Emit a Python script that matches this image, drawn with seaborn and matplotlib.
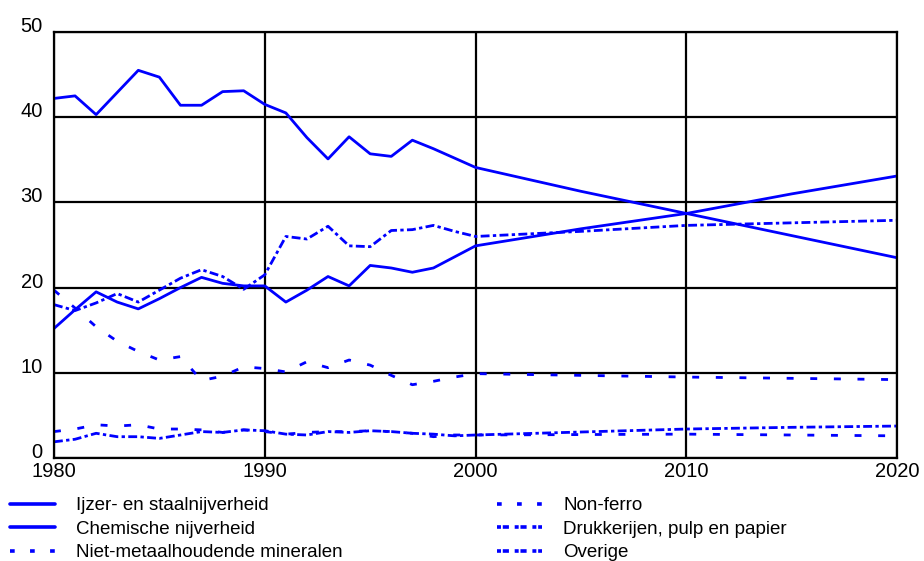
import pandas as pd
import matplotlib
matplotlib.use("Agg")
import matplotlib.pyplot as plt
import seaborn as sns

# years: yearly up to 2000, then every 5 years
years = list(range(1980, 2001)) + [2005, 2010, 2015, 2020]

ijzer = [42.2, 42.5, 40.3, 42.9, 45.5, 44.7, 41.4, 41.4, 43.0, 43.1,
         41.5, 40.5, 37.6, 35.1, 37.7, 35.7, 35.4, 37.3, 36.3, 35.2,
         34.1, 31.3, 28.7, 26.1, 23.5]
chemie = [15.2, 17.4, 19.5, 18.3, 17.5, 18.7, 20.0, 21.2, 20.5, 20.2,
          20.2, 18.3, 19.7, 21.3, 20.2, 22.6, 22.3, 21.8, 22.3, 23.6,
          24.9, 26.9, 28.7, 31.0, 33.1]
niet_metaal = [19.7, 17.6, 15.4, 13.7, 12.5, 11.5, 11.9, 9.1, 9.6, 10.7,
               10.5, 10.1, 11.3, 10.6, 11.5, 10.9, 9.7, 8.6, 9.0, 9.5,
               9.9, 9.7, 9.5, 9.35, 9.2]
non_ferro = [3.1, 3.4, 3.9, 3.75, 3.9, 3.4, 3.4, 3.3, 3.0, 3.3,
             3.1, 2.8, 3.0, 3.1, 3.1, 3.2, 3.1, 2.9, 2.5, 2.7,
             2.7, 2.75, 2.8, 2.7, 2.6]
drukkerijen = [1.9, 2.2, 2.9, 2.5, 2.5, 2.3, 2.7, 3.1, 3.0, 3.3,
               3.2, 2.8, 2.7, 3.1, 3.0, 3.2, 3.1, 2.9, 2.8, 2.6,
               2.7, 3.05, 3.4, 3.6, 3.75]
overige = [18.0, 17.3, 18.2, 19.3, 18.3, 19.7, 21.1, 22.1, 21.3, 19.8,
           21.5, 26.0, 25.7, 27.2, 24.9, 24.8, 26.7, 26.8, 27.3, 26.6,
           26.0, 26.6, 27.3, 27.6, 27.9]

labels = ["Ijzer- en staalnijverheid", "Chemische nijverheid",
          "Niet-metaalhoudende mineralen", "Non-ferro",
          "Drukkerijen, pulp en papier", "Overige"]
series = [ijzer, chemie, niet_metaal, non_ferro, drukkerijen, overige]

rows = []
for name, vals in zip(labels, series):
    for y, v in zip(years, vals):
        rows.append({"jaar": y, "waarde": v, "sector": name})
df = pd.DataFrame(rows)

sns.set_theme(style="white")
plt.rcParams["font.family"] = ["Liberation Sans", "DejaVu Sans"]
plt.rcParams["text.color"] = "black"

dashes = {
    labels[0]: "",
    labels[1]: "",
    labels[2]: (2.5, 6),
    labels[3]: (2.5, 6),
    labels[4]: (3.2, 1.2, 1.2, 1.2),
    labels[5]: (3.2, 1.2, 1.2, 1.2),
}
palette = {n: "#0000ff" for n in labels}
fs_tick = 14.5
fs_leg = 13.5

fig = plt.figure(figsize=(9.24, 5.61), dpi=100)
ax = fig.add_axes([0.0584, 0.1836, 0.9126, 0.7594])

sns.lineplot(data=df, x="jaar", y="waarde", hue="sector", style="sector",
             hue_order=labels, style_order=labels, palette=palette,
             dashes=dashes, linewidth=2, ax=ax, legend=True)

ax.set_xlim(1980, 2020)
ax.set_ylim(0, 50)
ax.set_xticks([1980, 1990, 2000, 2010, 2020])
ax.set_yticks([0, 10, 20, 30, 40, 50])
ax.grid(True, color="black", linewidth=1.6)
ax.set_axisbelow(True)
for s in ax.spines.values():
    s.set_color("black")
    s.set_linewidth(1.6)
ax.tick_params(axis="both", length=0, labelsize=fs_tick, colors="black")
ax.tick_params(axis="x", pad=3)
ax.tick_params(axis="y", pad=8)
ax.set_xlabel("")
ax.set_ylabel("")

# y labels sit on the gridline, not centred on it
for lab in ax.get_yticklabels():
    lab.set_verticalalignment("baseline")

handles, labs = ax.get_legend_handles_labels()
ax.get_legend().remove()
leg = fig.legend(handles, labs, loc="upper left", bbox_to_anchor=(0.011, 0.114),
                 ncol=2, frameon=False, fontsize=fs_leg, handlelength=2.4,
                 handletextpad=1.1, columnspacing=8.27, labelspacing=0.34,
                 borderaxespad=0, borderpad=0, labelcolor="black")
leg_dashes = [None, None, (1.3, 4.25), (1.3, 4.25),
              (1.1, 0.5, 1.7, 1.6), (1.1, 0.5, 1.7, 1.6)]
for h, d in zip(leg.get_lines(), leg_dashes):
    h.set_linewidth(2.6)
    if d is not None:
        h.set_dashes(d)

fig.savefig("out.png", dpi=100)
